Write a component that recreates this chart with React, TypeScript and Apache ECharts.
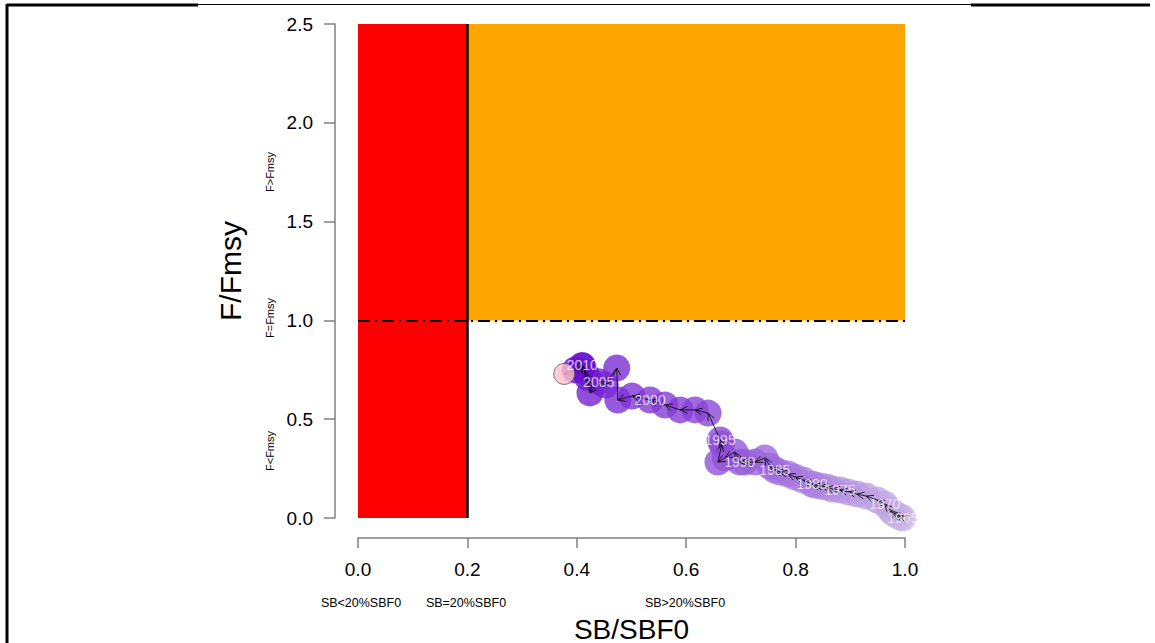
import React, { useEffect, useRef } from "react";
import * as echarts from "echarts";

// ---- data ----
const years = [
  1965, 1966, 1967, 1968, 1969, 1970, 1971, 1972, 1973, 1974,
  1975, 1976, 1977, 1978, 1979, 1980, 1981, 1982, 1983, 1984,
  1985, 1986, 1987, 1988, 1989, 1990, 1991, 1992, 1993, 1994,
  1995, 1996, 1997, 1998, 1999, 2000, 2001, 2002, 2003, 2004,
  2005, 2006, 2007, 2008, 2009, 2010, 2011, 2012,
];
const sbRatio = [
  0.996, 0.991, 0.985, 0.978, 0.973, 0.963, 0.949, 0.929, 0.912, 0.896,
  0.881, 0.867, 0.856, 0.845, 0.835, 0.83, 0.814, 0.799, 0.786, 0.771,
  0.762, 0.753, 0.744, 0.726, 0.707, 0.698, 0.689, 0.671, 0.658, 0.665,
  0.662, 0.64, 0.616, 0.589, 0.561, 0.534, 0.501, 0.475, 0.473, 0.452,
  0.44, 0.424, 0.42, 0.415, 0.41, 0.41, 0.397, 0.377,
];
const fRatio = [
  0.0, 0.005, 0.015, 0.025, 0.04, 0.071, 0.091, 0.111, 0.121, 0.132,
  0.142, 0.147, 0.157, 0.162, 0.167, 0.172, 0.192, 0.207, 0.223, 0.233,
  0.243, 0.263, 0.304, 0.283, 0.283, 0.283, 0.334, 0.304, 0.283, 0.374,
  0.395, 0.531, 0.547, 0.547, 0.572, 0.597, 0.617, 0.597, 0.759, 0.673,
  0.69, 0.633, 0.709, 0.739, 0.769, 0.772, 0.749, 0.729,
];
const labelYears = [1965, 1970, 1975, 1980, 1985, 1990, 1995, 2000, 2005, 2010];
const xTickLabels = ["0.0", "0.2", "0.4", "0.6", "0.8", "1.0"];
const yTickLabels = ["0.0", "0.5", "1.0", "1.5", "2.0", "2.5"];
const sbLimit = 0.2;
const fLimit = 1.0;
const xMax = 1.0;
const yMax = 2.5;

const FONT = "Liberation Sans, Arial, sans-serif";

function hexToRgb(h: string) {
  const v = parseInt(h.slice(1), 16);
  return [(v >> 16) & 255, (v >> 8) & 255, v & 255];
}
function mix(a: string, b: string, t: number) {
  const A = hexToRgb(a);
  const B = hexToRgb(b);
  const c = A.map((x, i) => Math.round(x + (B[i] - x) * t));
  return `rgb(${c[0]},${c[1]},${c[2]})`;
}

export default function App() {
  const ref = useRef<HTMLDivElement>(null);
  useEffect(() => {
    if (!ref.current) return;
    const chart = echarts.init(ref.current, null, { renderer: "svg" });
    const n = years.length;
    const last = n - 1;
    const light = "#cdbbe6";
    const dark = "#6a0fd0";
    const points = years.slice(0, last).map((y, i) => ({
      value: [sbRatio[i], fRatio[i], y],
      itemStyle: { color: mix(light, dark, i / (last - 1)) },
    }));
    const arrows: number[][] = [];
    for (let i = 0; i < n - 1; i++) {
      arrows.push([sbRatio[i], fRatio[i], sbRatio[i + 1], fRatio[i + 1]]);
    }
    const labels = years
      .map((y, i) => ({ y, i }))
      .filter((d) => labelYears.includes(d.y))
      .map((d) => ({ value: [sbRatio[d.i], fRatio[d.i], d.y] }));

    const axisGray = "#808080";

    chart.setOption({
      animation: false,
      backgroundColor: "#ffffff",
      grid: { left: 358, right: 250, top: 24, bottom: 125, outerBoundsMode: "none", containLabel: false },
      xAxis: {
        type: "value",
        min: 0,
        max: xMax,
        interval: 0.2,
        offset: 20,
        name: "SB/SBF0",
        nameLocation: "middle",
        nameGap: 77,
        nameTextStyle: { fontSize: 28, color: "#000", fontFamily: FONT, lineHeight: 28 },
        axisLine: { show: true, onZero: false, lineStyle: { color: axisGray, width: 1.5 } },
        axisTick: { show: true, length: 10, lineStyle: { color: axisGray, width: 1.5 } },
        axisLabel: {
          margin: 22,
          fontSize: 19,
          color: "#000",
          fontFamily: FONT,
          formatter: (v: number) => xTickLabels[Math.round(v / 0.2)] ?? "",
        },
        splitLine: { show: false },
      },
      yAxis: {
        type: "value",
        min: 0,
        max: yMax,
        interval: 0.5,
        offset: 23,
        name: "F/Fmsy",
        nameLocation: "middle",
        nameGap: 90,
        nameTextStyle: { fontSize: 30, color: "#000", fontFamily: FONT },
        axisLine: { show: true, onZero: false, lineStyle: { color: axisGray, width: 1.5 } },
        axisTick: { show: true, length: 11, lineStyle: { color: axisGray, width: 1.5 } },
        axisLabel: {
          margin: 22,
          fontSize: 19,
          color: "#000",
          fontFamily: FONT,
          formatter: (v: number) => yTickLabels[Math.round(v / 0.5)] ?? "",
        },
        splitLine: { show: false },
      },
      graphic: [
        { type: "line", shape: { x1: 7, y1: 4, x2: 7, y2: 643 }, style: { stroke: "#000", lineWidth: 3 } },
        { type: "line", shape: { x1: 7, y1: 5, x2: 198, y2: 5 }, style: { stroke: "#000", lineWidth: 3 } },
        { type: "line", shape: { x1: 198, y1: 4.5, x2: 971, y2: 4.5 }, style: { stroke: "#000", lineWidth: 1 } },
        { type: "line", shape: { x1: 971, y1: 5, x2: 1150, y2: 5 }, style: { stroke: "#000", lineWidth: 3 } },
        { type: "text", x: 270, y: 172, rotation: Math.PI / 2, style: { text: "F>Fmsy", fontSize: 11, fill: "#000", fontFamily: FONT, align: "center", verticalAlign: "middle" } },
        { type: "text", x: 270, y: 318, rotation: Math.PI / 2, style: { text: "F=Fmsy", fontSize: 11, fill: "#000", fontFamily: FONT, align: "center", verticalAlign: "middle" } },
        { type: "text", x: 270, y: 451, rotation: Math.PI / 2, style: { text: "F<Fmsy", fontSize: 11, fill: "#000", fontFamily: FONT, align: "center", verticalAlign: "middle" } },
        { type: "text", x: 361, y: 603, style: { text: "SB<20%SBF0", fontSize: 12.5, fill: "#000", fontFamily: FONT, align: "center", verticalAlign: "middle" } },
        { type: "text", x: 466, y: 603, style: { text: "SB=20%SBF0", fontSize: 12.5, fill: "#000", fontFamily: FONT, align: "center", verticalAlign: "middle" } },
        { type: "text", x: 685, y: 603, style: { text: "SB>20%SBF0", fontSize: 12.5, fill: "#000", fontFamily: FONT, align: "center", verticalAlign: "middle" } },
      ],
      series: [
        {
          type: "line",
          data: [],
          z: 1,
          silent: true,
          markArea: {
            silent: true,
            data: [
              [{ coord: [0, 0], itemStyle: { color: "#ff0000" } }, { coord: [sbLimit, yMax] }],
              [{ coord: [sbLimit, fLimit], itemStyle: { color: "#ffa500" } }, { coord: [xMax, yMax] }],
            ],
          },
          markLine: {
            silent: true,
            symbol: "none",
            label: { show: false },
            data: [
              [
                { coord: [sbLimit, 0], lineStyle: { color: "#000", width: 2.5, type: "solid" } },
                { coord: [sbLimit, yMax] },
              ],
              [
                { coord: [0, fLimit], lineStyle: { color: "#000", width: 2, type: [12, 5, 2, 5] } },
                { coord: [xMax, fLimit] },
              ],
            ],
          },
        },
        {
          type: "scatter",
          z: 3,
          silent: true,
          symbol: "circle",
          symbolSize: 27,
          data: points,
        },
        {
          type: "custom",
          z: 4,
          silent: true,
          encode: { x: [0, 2], y: [1, 3] },
          data: arrows,
          renderItem: (params: any, api: any) => {
            const p0 = api.coord([api.value(0), api.value(1)]);
            const p1 = api.coord([api.value(2), api.value(3)]);
            const dx = p1[0] - p0[0];
            const dy = p1[1] - p0[1];
            const len = Math.hypot(dx, dy) || 1;
            const bx = -dx / len;
            const by = -dy / len;
            const ah = 8;
            const c = Math.cos(Math.PI / 7);
            const s = Math.sin(Math.PI / 7);
            const w1 = [p1[0] + ah * (bx * c - by * s), p1[1] + ah * (bx * s + by * c)];
            const w2 = [p1[0] + ah * (bx * c + by * s), p1[1] + ah * (-bx * s + by * c)];
            return {
              type: "group",
              children: [
                { type: "line", shape: { x1: p0[0], y1: p0[1], x2: p1[0], y2: p1[1] }, style: { stroke: "#000", lineWidth: 0.8 } },
                { type: "polyline", shape: { points: [w1, p1, w2] }, style: { stroke: "#000", fill: "none", lineWidth: 0.8 } },
              ],
            };
          },
        },
        {
          type: "scatter",
          z: 5,
          silent: true,
          symbol: "circle",
          symbolSize: 21,
          data: [{ value: [sbRatio[last], fRatio[last], years[last]] }],
          itemStyle: { color: "#ffc0cb", borderColor: "#555555", borderWidth: 1 },
        },
        {
          type: "scatter",
          z: 6,
          silent: true,
          symbol: "circle",
          symbolSize: 1,
          itemStyle: { color: "rgba(0,0,0,0)" },
          data: labels,
          label: {
            show: true,
            position: "inside",
            color: "#f4f4f4",
            fontSize: 14,
            fontFamily: FONT,
            formatter: (p: any) => String(p.value[2]),
          },
        },
      ],
    });
    return () => chart.dispose();
  }, []);
  return (
    <div
      ref={ref}
      style={{ position: "fixed", left: 0, top: 0, width: 1155, height: 643, background: "#fff" }}
    />
  );
}
